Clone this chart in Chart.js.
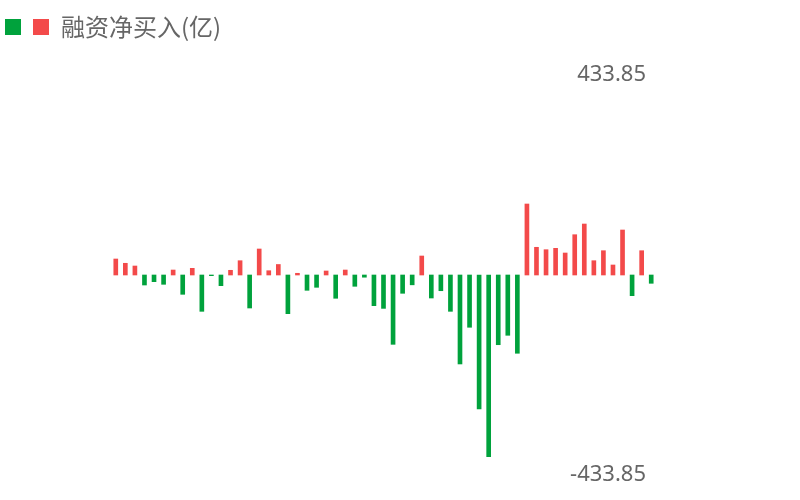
<!DOCTYPE html>
<html>
<head>
<meta charset="utf-8">
<title>融资净买入</title>
<script src="https://cdn.jsdelivr.net/npm/chart.js@4/dist/chart.umd.min.js"></script>
<style>
    html, body { margin: 0; padding: 0; background: #fff; }
    #wrap { width: 800px; height: 500px; }
</style>
</head>
<body>
<div id="wrap"><canvas id="chart"></canvas></div>
<script>
// net margin buying per day, in 亿
var netBuy = [
    34.7, 25.4, 19.5, -21.7, -14.5, -20.2, 10.8, -41.9, 14.5, -78.8,
    -1.5, -23.2, 10.2, 31.0, -71.6, 56.4, 9.3, 22.8, -83.9, 3.7,
    -33.2, -26.7, 8.7, -50.5, 10.8, -24.5, -4.8, -66.5, -72.4, -150.4,
    -39.7, -21.3, 41.2, -49.9, -34.1, -78.8, -193.0, -113.4, -290.6, -394.1,
    -151.2, -130.8, -169.8, 154.0, 60.1, 54.9, 57.9, 47.7, 87.4, 110.6,
    31.0, 52.7, 21.7, 97.6, -44.9, 52.7, -18.0
];
var days = netBuy.map(function (v, i) { return String(i + 1); });
var yTicks = [-433.85, 433.85];
var seriesName = "融资净买入(亿)";

var RED = "#f34a4a";
var GREEN = "#00a23c";
var TEXT = "#666666";

// legend needs extra room under it so the plot starts lower
var legendSpace = {
    id: "legendSpace",
    beforeInit: function (chart) {
        var fit = chart.legend.fit;
        chart.legend.fit = function () {
            fit.bind(chart.legend)();
            this.height = 60;
        };
    }
};

function onlyMinMax(scale) {
    scale.ticks = yTicks.map(function (v) { return { value: v }; });
}

new Chart(document.getElementById("chart"), {
    type: "bar",
    data: {
        labels: days,
        datasets: [{
            label: seriesName,
            data: netBuy,
            yAxisID: "y",
            barThickness: 4,
            backgroundColor: netBuy.map(function (v) { return v >= 0 ? RED : GREEN; })
        }]
    },
    options: {
        responsive: true,
        maintainAspectRatio: false,
        animation: false,
        layout: { padding: { left: 5, top: 15, right: 0, bottom: 25 } },
        plugins: {
            tooltip: { enabled: false },
            legend: {
                position: "top",
                align: "start",
                onClick: function () {},
                labels: {
                    boxWidth: 16,
                    boxHeight: 16,
                    padding: 0,
                    color: TEXT,
                    font: { family: "'Noto Sans CJK SC', 'Noto Sans', sans-serif", size: 24 },
                    generateLabels: function () {
                        return [
                            { text: "", fillStyle: GREEN, strokeStyle: GREEN, lineWidth: 0, hidden: false, fontColor: TEXT },
                            { text: seriesName, fillStyle: RED, strokeStyle: RED, lineWidth: 0, hidden: false, fontColor: TEXT }
                        ];
                    }
                }
            }
        },
        scales: {
            x: { display: false },
            y: {
                position: "left",
                min: yTicks[0],
                max: yTicks[1],
                grid: { display: false },
                border: { display: false },
                ticks: { display: false },
                afterFit: function (scale) { scale.width = 106; }
            },
            yr: {
                position: "right",
                min: yTicks[0],
                max: yTicks[1],
                grid: { display: false, drawTicks: false },
                border: { display: false },
                afterBuildTicks: onlyMinMax,
                afterFit: function (scale) { scale.width = 144; },
                ticks: {
                    mirror: true,
                    padding: -10,
                    color: TEXT,
                    font: { family: "'Noto Sans', sans-serif", size: 22 },
                    callback: function (value) { return Number(value).toFixed(2); }
                }
            }
        }
    },
    plugins: [legendSpace]
});
</script>
</body>
</html>
